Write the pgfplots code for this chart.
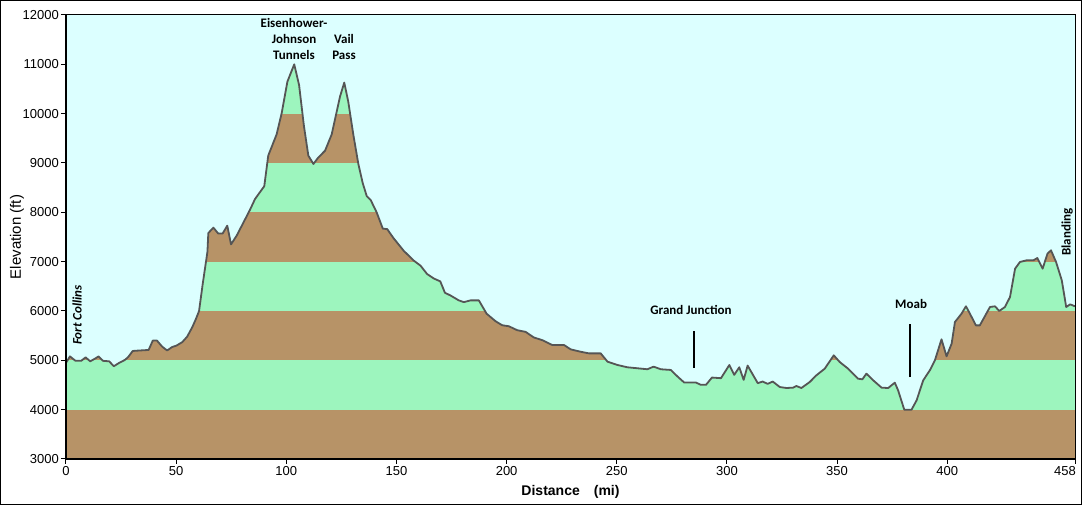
\documentclass[border=0pt]{standalone}
\usepackage{pgfplots}
\pgfplotsset{compat=1.18}
\usepackage{pgfplotstable}
\usepackage{fontspec}
\setmainfont{Liberation Sans}
\newfontfamily\annfont{Carlito}
\definecolor{sky}{RGB}{220,255,255}
\definecolor{bandgreen}{RGB}{157,245,190}
\definecolor{bandbrown}{RGB}{183,147,103}
\definecolor{profline}{RGB}{85,85,85}

\pgfplotstableread{
x y
0 4950
1.8 5080
4.3 4990
6.9 4990
8.9 5060
11 4980
13 5030
14.8 5080
16.8 4990
19.6 4980
21.7 4880
24.2 4950
26.8 5010
28.3 5070
30.3 5190
33.6 5200
37.5 5210
39.4 5400
41.3 5400
43.6 5280
45.9 5200
48.2 5270
50.2 5300
52.8 5370
55 5480
57.3 5670
58.9 5830
60.4 6000
62 6530
64.2 7200
64.6 7580
66.9 7690
69.1 7570
71.1 7570
73.2 7730
74.9 7350
77.5 7530
83.5 8050
85.8 8270
90 8530
91.8 9150
95.6 9580
97.9 10010
100.5 10650
103.6 11000
105.8 10580
108 9750
110 9150
112.3 8980
114.5 9110
117.6 9250
120.6 9580
124.4 10350
126.3 10630
128.1 10250
130.4 9580
132.7 8980
134.7 8590
136.5 8330
138.3 8250
141 8000
143.8 7670
145.8 7660
148.6 7480
153.3 7220
157.9 7020
160.9 6920
163.9 6750
166.9 6660
169.9 6600
172 6370
174.5 6315
178.3 6215
180.6 6180
183.6 6215
187.4 6215
190.9 5946
195 5792
198 5711
201 5691
204.8 5611
208.6 5577
212.4 5463
216.2 5409
220.8 5309
226.1 5309
229.1 5222
233.6 5174
237.4 5141
242.7 5141
245.8 4973
250.3 4906
254.8 4859
259.4 4839
263.9 4819
266.7 4872
270 4819
274.5 4805
277.6 4671
280.6 4550
285.9 4550
288.2 4503
290.5 4503
293.2 4651
297.3 4638
301.1 4906
303.3 4705
305.6 4859
307.6 4604
309.4 4893
314 4537
316.2 4570
318.5 4523
320.8 4570
324 4459
327 4439
330 4446
331.5 4480
333.8 4439
337.6 4561
340.6 4696
344.4 4831
348.5 5101
351.2 4966
355 4831
359.5 4628
361.5 4615
363.3 4730
366.4 4595
370.2 4446
373.2 4439
376.2 4547
377.7 4392
380.5 4000
383.8 4000
386.1 4189
389.1 4595
392.1 4797
394.4 5000
397.4 5426
399.7 5081
402 5338
403.5 5777
406.5 5946
408.5 6095
410.3 5946
413 5709
414.8 5709
419.4 6081
421.7 6095
423.6 6000
426.2 6081
428.5 6284
430.8 6858
433 6993
436 7027
439.1 7027
440.9 7074
443.3 6858
445.5 7162
447.1 7230
449.4 6993
452 6622
454 6081
455.8 6135
458 6095
}\profile

\begin{document}
\begin{tikzpicture}
\useasboundingbox (0,0) rectangle (1082pt,505pt);
\draw[line width=1.2pt] (0.6pt,0.6pt) rectangle (1081.4pt,504.4pt);
\begin{axis}[
  at={(66pt,46pt)}, anchor=south west,
  width=1009pt, height=444pt, scale only axis,
  xmin=0, xmax=458, ymin=3000, ymax=12000,
  xtick={0,50,100,150,200,250,300,350,400},
  extra x ticks={458},
  extra x tick style={xticklabel style={anchor=north east, xshift=3pt}},
  ytick={3000,4000,5000,6000,7000,8000,9000,10000,11000,12000},
  scaled y ticks=false, scaled x ticks=false,
  xtick pos=lower, ytick pos=left,
  tick align=outside,
  major tick length=5pt,
  tick style={black, line width=1pt},
  axis line style={line width=1pt},
  axis background/.style={fill=bandbrown},
  axis on top=true,
  clip=false,
  /pgf/number format/set thousands separator={},
  /pgf/number format/assume math mode=true,
  ticklabel style={font=\fontsize{13}{15}\selectfont},
  xticklabel style={inner sep=2pt},
  yticklabel style={inner sep=2pt},
  xlabel={Distance\hspace{1em}(mi)},
  ylabel={Elevation (ft)},
  xlabel style={font=\fontsize{14}{16}\selectfont\bfseries, at={(axis description cs:0.5,-0.0743)}, anchor=center},
  ylabel style={font=\fontsize{15}{17}\selectfont, at={(axis description cs:-0.0486,0.5)}, anchor=center},
]
\addplot[fill=bandgreen, draw=none] coordinates {(0,4000) (458,4000) (458,5000) (0,5000)} -- cycle;
\addplot[fill=bandgreen, draw=none] coordinates {(0,6000) (458,6000) (458,7000) (0,7000)} -- cycle;
\addplot[fill=bandgreen, draw=none] coordinates {(0,8000) (458,8000) (458,9000) (0,9000)} -- cycle;
\addplot[fill=bandgreen, draw=none] coordinates {(0,10000) (458,10000) (458,11000) (0,11000)} -- cycle;
\addplot[fill=sky, draw=none] table[x=x,y=y]{\profile} -- (axis cs:458,12000) -- (axis cs:0,12000) -- cycle;
\addplot[draw=profline, line width=1.8pt, line join=round] table[x=x,y=y]{\profile};
\addplot[black, line width=2pt] coordinates {(285.1,4845) (285.1,5594)};
\addplot[black, line width=2pt] coordinates {(383.1,4662) (383.1,5737)};
\node[font=\annfont\bfseries\fontsize{13}{16}\selectfont, align=center, anchor=south] at (axis cs:103.5,11020) {Eisenhower-\\Johnson\\Tunnels};
\node[font=\annfont\bfseries\fontsize{13}{16}\selectfont, align=center, anchor=south] at (axis cs:126.2,11020) {Vail\\Pass};
\node[font=\annfont\bfseries\fontsize{13}{15}\selectfont] at (axis cs:283.7,6020) {Grand Junction};
\node[font=\annfont\bfseries\fontsize{13}{15}\selectfont] at (axis cs:383.6,6142) {Moab};
\node[font=\annfont\bfseries\itshape\fontsize{13}{15}\selectfont, rotate=90] at (axis cs:5.0,5919) {Fort Collins};
\node[font=\annfont\bfseries\fontsize{13}{15}\selectfont, rotate=90] at (axis cs:454.4,7601) {Blanding};
\draw[line width=2pt] (rel axis cs:0,1) -- (rel axis cs:0,0) -- (rel axis cs:1,0);
\end{axis}
\end{tikzpicture}
\end{document}
